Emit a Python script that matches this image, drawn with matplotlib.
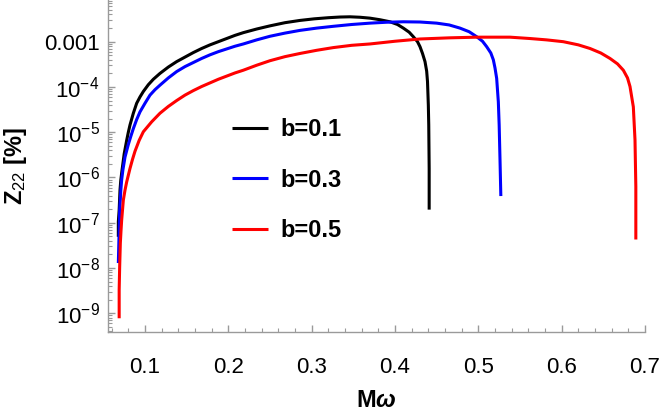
import numpy as np
import matplotlib
matplotlib.use('Agg')
import matplotlib.pyplot as plt
from matplotlib.ticker import FixedLocator, MultipleLocator, LogLocator, NullFormatter

plt.rcParams['font.family'] = ['Liberation Sans', 'DejaVu Sans']
plt.rcParams['mathtext.fontset'] = 'custom'
plt.rcParams['mathtext.rm'] = 'Liberation Sans'
plt.rcParams['mathtext.bf'] = 'Liberation Sans:bold'
plt.rcParams['mathtext.it'] = 'Liberation Sans:italic:bold'

# curves: M*omega and log10(Z22 [%])
x_b01 = [0.068, 0.068, 0.0685, 0.069, 0.0695, 0.070, 0.071, 0.0725, 0.075, 0.078, 0.080,
         0.082, 0.086, 0.090, 0.094, 0.098, 0.104, 0.110, 0.118, 0.128, 0.138, 0.148,
         0.158, 0.168, 0.178, 0.188, 0.198, 0.208, 0.218, 0.234, 0.250, 0.268, 0.286,
         0.303, 0.320, 0.334, 0.346, 0.358, 0.370, 0.382, 0.394, 0.403, 0.410, 0.417,
         0.422, 0.427, 0.430, 0.433, 0.436, 0.438, 0.439, 0.440, 0.4405, 0.441, 0.441]
lz_b01 = [-7.31, -6.98, -6.85, -6.72, -6.50, -6.28, -6.05, -5.83, -5.48, -5.18, -5.00,
          -4.84, -4.58, -4.36, -4.22, -4.10, -3.95, -3.83, -3.70, -3.56, -3.44, -3.34,
          -3.24, -3.15, -3.07, -3.00, -2.93, -2.86, -2.80, -2.72, -2.65, -2.58, -2.53,
          -2.495, -2.47, -2.455, -2.45, -2.46, -2.48, -2.515, -2.56, -2.62, -2.70, -2.79,
          -2.89, -3.00, -3.11, -3.26, -3.44, -3.65, -3.88, -4.40, -4.84, -5.80, -6.71]

x_b03 = [0.068, 0.0684, 0.069, 0.0696, 0.0703, 0.071, 0.072, 0.0735, 0.076, 0.080, 0.083,
         0.086, 0.090, 0.094, 0.100, 0.106, 0.112, 0.118, 0.128, 0.138, 0.148, 0.158,
         0.168, 0.178, 0.188, 0.198, 0.208, 0.218, 0.234, 0.250, 0.268, 0.286, 0.306,
         0.326, 0.348, 0.370, 0.390, 0.410, 0.430, 0.450, 0.465, 0.478, 0.489, 0.498,
         0.505, 0.510, 0.515, 0.518, 0.520, 0.522, 0.524, 0.525, 0.526, 0.527]
lz_b03 = [-7.89, -7.60, -7.16, -6.72, -6.50, -6.28, -6.05, -5.83, -5.55, -5.27, -5.09,
          -4.92, -4.72, -4.55, -4.36, -4.18, -4.06, -3.96, -3.80, -3.66, -3.55, -3.46,
          -3.37, -3.29, -3.22, -3.16, -3.10, -3.05, -2.96, -2.88, -2.81, -2.75, -2.70,
          -2.66, -2.62, -2.59, -2.57, -2.56, -2.565, -2.59, -2.63, -2.70, -2.78, -2.89,
          -2.99, -3.11, -3.25, -3.40, -3.58, -3.81, -4.33, -4.84, -5.60, -6.41]

x_b05 = [0.069, 0.069, 0.0696, 0.0704, 0.0712, 0.072, 0.073, 0.074, 0.076, 0.078, 0.080,
         0.082, 0.085, 0.088, 0.093, 0.098, 0.108, 0.118, 0.128, 0.138, 0.148, 0.158,
         0.168, 0.178, 0.188, 0.198, 0.208, 0.218, 0.234, 0.250, 0.268, 0.286, 0.306,
         0.326, 0.348, 0.370, 0.400, 0.430, 0.465, 0.498, 0.538, 0.562, 0.582, 0.602,
         0.620, 0.634, 0.647, 0.658, 0.667, 0.674, 0.679, 0.682, 0.686, 0.688, 0.689, 0.689]
lz_b05 = [-9.11, -8.48, -7.97, -7.45, -7.18, -6.94, -6.72, -6.50, -6.28, -6.10, -5.95,
          -5.80, -5.60, -5.42, -5.18, -4.99, -4.77, -4.58, -4.43, -4.30, -4.18, -4.08,
          -3.99, -3.91, -3.83, -3.76, -3.69, -3.63, -3.52, -3.42, -3.33, -3.26, -3.19,
          -3.13, -3.08, -3.05, -2.99, -2.94, -2.915, -2.90, -2.90, -2.93, -2.96, -3.00,
          -3.07, -3.15, -3.25, -3.37, -3.49, -3.63, -3.80, -3.99, -4.44, -5.17, -6.20, -7.37]

labels = ['b=0.1', 'b=0.3', 'b=0.5']
colors = ['black', 'blue', 'red']

y_ticks = [1e-9, 1e-8, 1e-7, 1e-6, 1e-5, 1e-4, 1e-3]
y_ticklabels = ['$10^{-9}$', '$10^{-8}$', '$10^{-7}$', '$10^{-6}$', '$10^{-5}$', '$10^{-4}$', '0.001']
x_ticks = [0.1, 0.2, 0.3, 0.4, 0.5, 0.6, 0.7]

fig = plt.figure(figsize=(6.64, 4.13), dpi=100)
ax = fig.add_axes([108/664., 1-332/413., 537/664., 332/413.])

curves = [(x_b01, lz_b01), (x_b03, lz_b03), (x_b05, lz_b05)]
for (xs, lz), lab, col in zip(curves, labels, colors):
    ax.plot(xs, 10**np.array(lz), color=col, lw=2.2, label=lab,
            solid_capstyle='butt', solid_joinstyle='round')

ax.set_yscale('log')
ax.set_xlim(0.0556, 0.7)
ax.set_ylim(3.86e-10, 8.34e-3)

ax.yaxis.set_major_locator(FixedLocator(y_ticks))
ax.set_yticklabels(y_ticklabels)
ax.yaxis.set_minor_locator(LogLocator(base=10, subs=np.arange(2, 10)))
ax.yaxis.set_minor_formatter(NullFormatter())
ax.set_xticks(x_ticks)
ax.set_xticklabels(['%.1f' % v for v in x_ticks])
ax.xaxis.set_minor_locator(MultipleLocator(0.02))

gray = '#9a9a9a'
for s in ['top', 'right']:
    ax.spines[s].set_visible(False)
for s in ['left', 'bottom']:
    ax.spines[s].set_color(gray)
    ax.spines[s].set_linewidth(1.0)

ax.tick_params(which='both', direction='in', color=gray, labelsize=16, labelcolor='black')
ax.tick_params(which='major', length=5, width=1)
ax.tick_params(which='minor', length=3, width=0.8)
ax.tick_params(axis='x', which='major', pad=18)
ax.tick_params(axis='y', which='major', pad=6)

ax.set_xlabel(r'$\mathbf{M}\omega$', fontsize=17, fontweight='bold')
ax.set_ylabel(r'$\mathbf{Z}_{22}$ [%]', fontsize=17, fontweight='bold')
ax.xaxis.set_label_coords(0.5, -0.205)
ax.xaxis.label.set_va('center')
ax.yaxis.set_label_coords(-0.173, 0.5)
ax.yaxis.label.set_va('center')

leg = ax.legend(loc='upper left', bbox_to_anchor=(231.7/664., 1-118.5/413.),
                bbox_transform=fig.transFigure, frameon=False, borderpad=0,
                borderaxespad=0, handlelength=1.55, handletextpad=0.5,
                labelspacing=1.15, prop={'size': 17, 'weight': 'bold'})

fig.savefig('out.png', dpi=100)
